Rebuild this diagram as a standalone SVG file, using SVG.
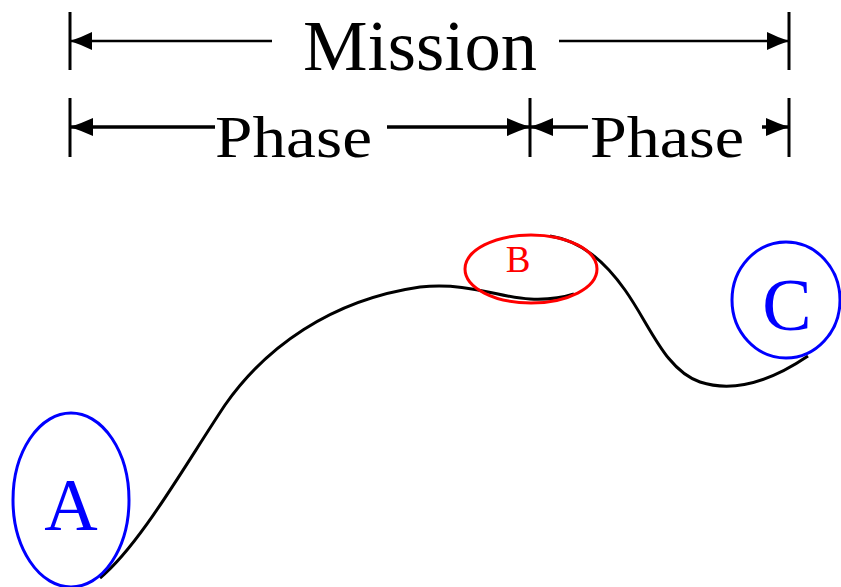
<svg xmlns="http://www.w3.org/2000/svg" width="841" height="587" viewBox="0 0 841 587">
<style>
.bar{stroke:#000;stroke-width:3;fill:none}
.dim{stroke:#000;fill:none}
.lbl{font-family:"Liberation Serif","DejaVu Serif",serif;fill:#000}
.curve{stroke:#000;stroke-width:3;fill:none;stroke-linecap:butt}
.node{fill:none;stroke-width:3}
</style>
<defs>
<marker id="ah1" markerUnits="userSpaceOnUse" markerWidth="24" markerHeight="20" refX="0" refY="0" orient="auto" overflow="visible">
<path d="M1,0 Q-11,-4 -21,-9 L-21,9 Q-11,4 1,0 Z" fill="#000"/>
</marker>
<marker id="ah2" markerUnits="userSpaceOnUse" markerWidth="24" markerHeight="20" refX="0" refY="0" orient="auto" overflow="visible">
<path d="M1,0 Q-11,-4 -22,-9 L-22,9 Q-11,4 1,0 Z" fill="#000"/>
</marker>
</defs>
<g id="dimensions">
<line class="bar" x1="70" y1="12" x2="70" y2="70"/>
<line class="bar" x1="789" y1="12" x2="789" y2="70"/>
<line class="bar" x1="70" y1="98" x2="70" y2="157"/>
<line class="bar" x1="530" y1="98" x2="530" y2="157"/>
<line class="bar" x1="789" y1="98" x2="789" y2="157"/>
<line class="dim" stroke-width="2.5" x1="272" y1="41" x2="71" y2="41" marker-end="url(#ah1)"/>
<line class="dim" stroke-width="2.5" x1="559" y1="41" x2="788" y2="41" marker-end="url(#ah1)"/>
<line class="dim" stroke-width="3.5" x1="215" y1="127" x2="71" y2="127" marker-end="url(#ah2)"/>
<line class="dim" stroke-width="3.5" x1="387" y1="127" x2="529" y2="127" marker-end="url(#ah2)"/>
<line class="dim" stroke-width="3.5" x1="588" y1="127" x2="531" y2="127" marker-end="url(#ah2)"/>
<line class="dim" stroke-width="3.5" x1="762" y1="127" x2="788" y2="127" marker-end="url(#ah2)"/>
<text class="lbl" x="303" y="70" font-size="71" textLength="234" lengthAdjust="spacingAndGlyphs">Mission</text>
<text class="lbl" x="215" y="157" font-size="60" textLength="157" lengthAdjust="spacingAndGlyphs">Phase</text>
<text class="lbl" x="590" y="157" font-size="60" textLength="154" lengthAdjust="spacingAndGlyphs">Phase</text>
</g>
<g id="connectors">
<path class="curve" d="M100,578 C140,545 185,465 225,405 C265,348 330,300 420,287 C470,282 500,298 530,299 C552,300 565,297 574,294"/>
<path class="curve" d="M550,236 C582,241 605,262 625,290 C650,325 665,370 700,382 C740,395 780,375 808,356"/>
</g>
<g id="node-A">
<ellipse class="node" stroke="#0000ff" cx="71" cy="500" rx="58" ry="87"/>
<text class="lbl" x="71" y="530" font-size="74" text-anchor="middle" style="fill:#0000ff">A</text>
</g>
<g id="node-B">
<ellipse class="node" stroke="#ff0000" cx="531" cy="269" rx="66" ry="34"/>
<text class="lbl" x="518" y="272" font-size="37" text-anchor="middle" style="fill:#ff0000">B</text>
</g>
<g id="node-C">
<ellipse class="node" stroke="#0000ff" cx="786" cy="300" rx="54" ry="58"/>
<text class="lbl" x="787" y="330" font-size="74" text-anchor="middle" style="fill:#0000ff">C</text>
</g>
</svg>
